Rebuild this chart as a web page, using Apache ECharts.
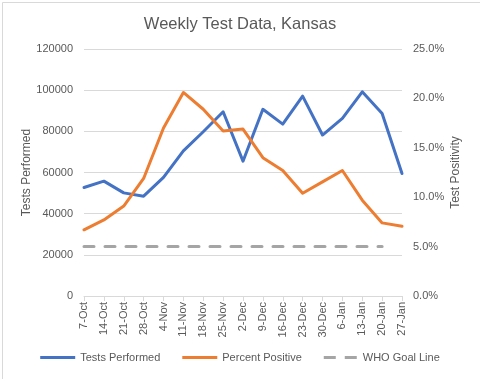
<!DOCTYPE html>
<html>
<head>
<meta charset="utf-8">
<script src="https://cdn.jsdelivr.net/npm/echarts@6/dist/echarts.min.js"></script>
<style>
html,body{margin:0;padding:0;background:#fff;}
#c{width:480px;height:379px;}
</style>
</head>
<body>
<div id="c"></div>
<script>
const categories = ['7-Oct','14-Oct','21-Oct','28-Oct','4-Nov','11-Nov','18-Nov','25-Nov','2-Dec','9-Dec','16-Dec','23-Dec','30-Dec','6-Jan','13-Jan','20-Jan','27-Jan'];
const testsPerformed = [52700, 55800, 50100, 48500, 57600, 70500, 79800, 89500, 65500, 90700, 83500, 97100, 78200, 86300, 99200, 88700, 59500];
const percentPositive = [6.7, 7.7, 9.1, 11.9, 17.0, 20.6, 18.9, 16.7, 16.9, 14.0, 12.7, 10.4, 11.55, 12.7, 9.7, 7.4, 7.06];
const whoGoal = [5, 5, 5, 5, 5, 5, 5, 5, 5, 5, 5, 5, 5, 5, 5, 5, null];
const leftTicks = {min: 0, max: 120000, interval: 20000};
const rightTicks = {min: 0, max: 25, interval: 5};

const FONT = 'Liberation Sans';
const TXT = '#595959';
const GRID = '#D9D9D9';

const chart = echarts.init(document.getElementById('c'), null, {renderer: 'canvas'});
chart.setOption({
  animation: false,
  backgroundColor: '#fff',
  textStyle: {fontFamily: FONT},
  graphic: [{
    type: 'rect', left: 0, top: 0, silent: true,
    shape: {x: 0.5, y: 0.5, width: 479, height: 378},
    style: {fill: 'none', stroke: '#D9D9D9', lineWidth: 1}
  }],
  title: {
    text: 'Weekly Test Data, Kansas',
    left: 'center', top: 11,
    textStyle: {fontFamily: FONT, fontSize: 16.5, fontWeight: 'normal', color: TXT}
  },
  legend: {
    bottom: 11, left: 'center',
    itemWidth: 35, itemHeight: 3, itemGap: 22,
    textStyle: {fontFamily: FONT, fontSize: 11, color: TXT},
    data: [
      {name: 'Tests Performed', icon: 'rect'},
      {name: 'Percent Positive', icon: 'rect'},
      {name: 'WHO Goal Line', icon: 'path://M0,0h12v3h-12zM21,0h12v3h-12z'}
    ]
  },
  grid: {left: 84, right: 78, top: 49, bottom: 83, containLabel: false},
  xAxis: {
    type: 'category', data: categories, boundaryGap: false,
    axisLine: {lineStyle: {color: GRID, width: 1}},
    axisTick: {show: true, length: 5, alignWithLabel: true, lineStyle: {color: GRID}},
    axisLabel: {rotate: 90, interval: 0, color: TXT, fontSize: 11, fontFamily: FONT, margin: 6}
  },
  yAxis: [{
    type: 'value', min: leftTicks.min, max: leftTicks.max, interval: leftTicks.interval,
    name: 'Tests Performed', nameLocation: 'middle', nameGap: 51, nameMoveOverlap: false,
    nameTextStyle: {color: TXT, fontSize: 12, fontFamily: FONT},
    axisLine: {show: false}, axisTick: {show: false},
    axisLabel: {color: TXT, fontSize: 11, fontFamily: FONT, margin: 11,
      formatter: v => String(v)},
    splitLine: {lineStyle: {color: GRID, width: 1}}
  }, {
    type: 'value', min: rightTicks.min, max: rightTicks.max, interval: rightTicks.interval,
    name: 'Test Positivity', nameLocation: 'middle', nameGap: 48, nameMoveOverlap: false,
    nameTextStyle: {color: TXT, fontSize: 12, fontFamily: FONT},
    axisLine: {show: false}, axisTick: {show: false},
    axisLabel: {color: TXT, fontSize: 11, fontFamily: FONT, margin: 11,
      formatter: v => v.toFixed(1) + '%'},
    splitLine: {show: false}
  }],
  series: [{
    name: 'Tests Performed', type: 'line', yAxisIndex: 0, data: testsPerformed,
    symbol: 'none', color: '#4472C4',
    lineStyle: {width: 3, color: '#4472C4', cap: 'round', join: 'round'}
  }, {
    name: 'Percent Positive', type: 'line', yAxisIndex: 1, data: percentPositive,
    symbol: 'none', color: '#ED7D31',
    lineStyle: {width: 3, color: '#ED7D31', cap: 'round', join: 'round'}
  }, {
    name: 'WHO Goal Line', type: 'line', yAxisIndex: 1, data: whoGoal,
    symbol: 'none', color: '#A5A5A5',
    lineStyle: {width: 3, color: '#A5A5A5', type: [10, 11], cap: 'round'}
  }]
});
</script>
</body>
</html>
